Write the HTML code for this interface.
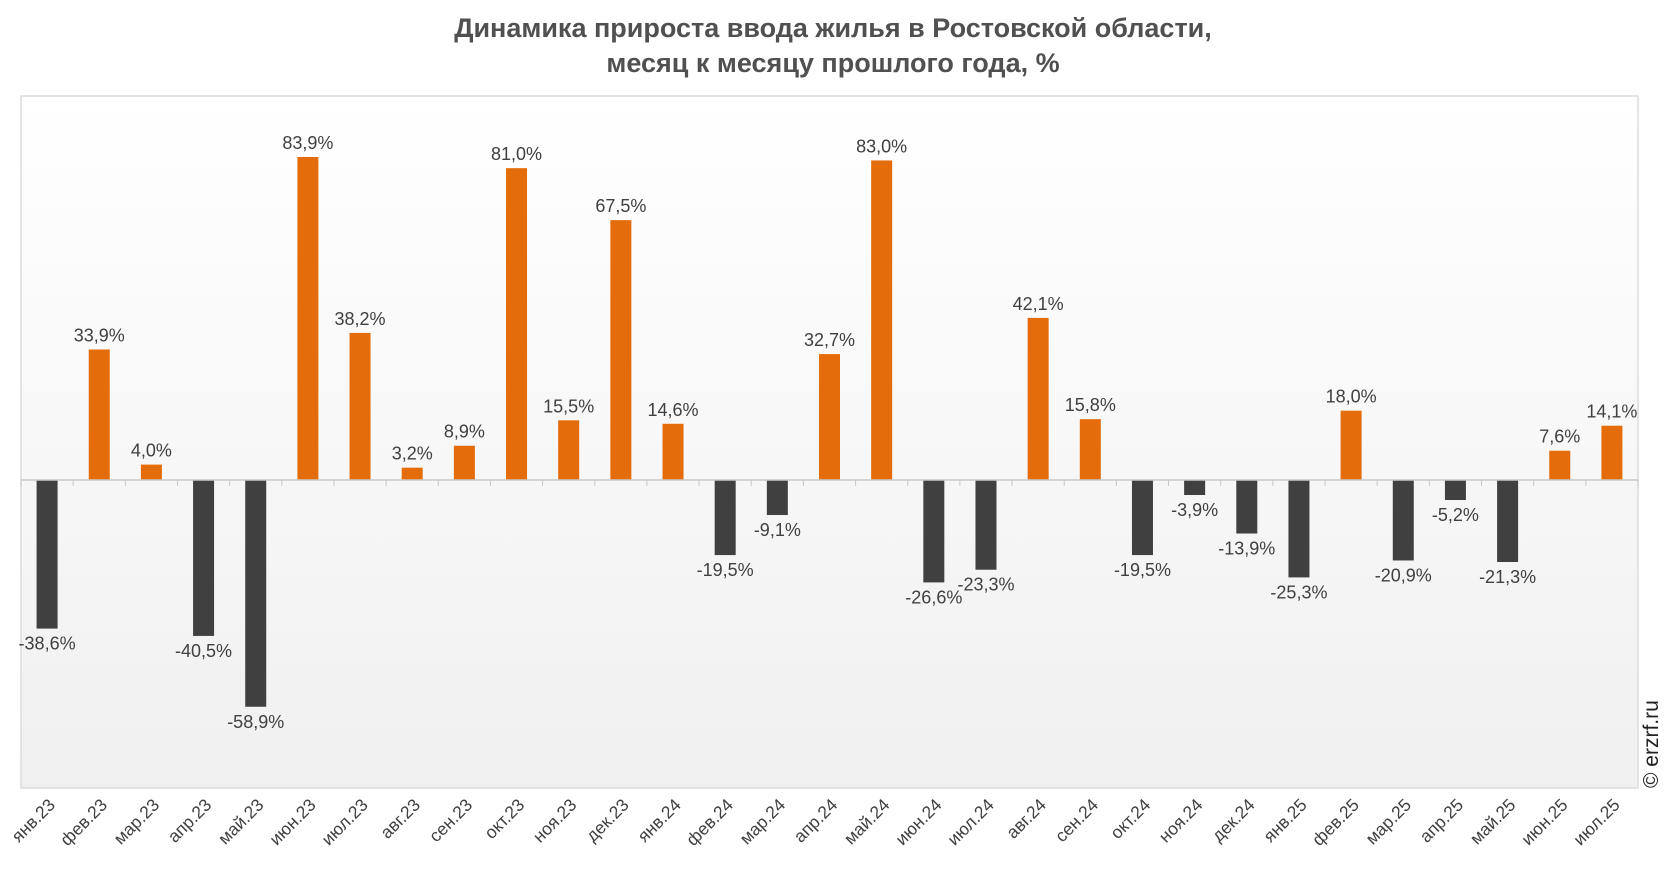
<!DOCTYPE html>
<html><head><meta charset="utf-8">
<style>
html,body{margin:0;padding:0;background:#fff;}
svg{display:block;font-family:"Liberation Sans","DejaVu Sans",sans-serif;}
</style></head>
<body>
<svg id="chart" width="1666" height="872" viewBox="0 0 1666 872">
<defs>
<linearGradient id="bg" x1="0" y1="0" x2="0" y2="1">
<stop offset="0" stop-color="#ffffff"/><stop offset="1" stop-color="#f0f0f0"/>
</linearGradient>
</defs>
<text x="833" y="37" text-anchor="middle" font-size="27" font-weight="bold" fill="#505050">Динамика прироста ввода жилья в Ростовской области,</text>
<text x="833" y="72" text-anchor="middle" font-size="27" font-weight="bold" fill="#505050">месяц к месяцу прошлого года, %</text>
<rect x="21" y="96" width="1617" height="692" fill="url(#bg)" stroke="#dcdcdc" stroke-width="1.5"/>
<g id="bars"></g>
<g id="axis"></g>
<g id="labels"></g>
<text transform="translate(1658,788) rotate(-90)" font-size="21" fill="#222">© erzrf.ru</text>
</svg>
<script>
const categories=["янв.23","фев.23","мар.23","апр.23","май.23","июн.23","июл.23","авг.23","сен.23","окт.23","ноя.23","дек.23","янв.24","фев.24","мар.24","апр.24","май.24","июн.24","июл.24","авг.24","сен.24","окт.24","ноя.24","дек.24","янв.25","фев.25","мар.25","апр.25","май.25","июн.25","июл.25"];
const values=[-38.6,33.9,4.0,-40.5,-58.9,83.9,38.2,3.2,8.9,81.0,15.5,67.5,14.6,-19.5,-9.1,32.7,83.0,-26.6,-23.3,42.1,15.8,-19.5,-3.9,-13.9,-25.3,18.0,-20.9,-5.2,-21.3,7.6,14.1];
const NS="http://www.w3.org/2000/svg";
const left=21,right=1638,zeroY=480,pxPer=3.85,barW=21;
const step=(right-left)/categories.length;
function xC(i){return left+step*(i+0.5);}
function yV(v){return zeroY-v*pxPer;}
function mk(tag,attrs,parent){const e=document.createElementNS(NS,tag);for(const k in attrs)e.setAttribute(k,attrs[k]);parent.appendChild(e);return e;}
const gb=document.getElementById('bars'),ga=document.getElementById('axis'),gl=document.getElementById('labels');
values.forEach((v,i)=>{
  const y0=yV(Math.max(v,0)),y1=yV(Math.min(v,0));
  const r=mk('rect',{x:xC(i)-barW/2,y:y0,width:barW,height:Math.max(y1-y0,0.5),fill:v>=0?'#e46c0a':'#404040'},gb);
  
  
  const t=mk('text',{x:xC(i),y:v>=0?y0-8:y1+21,'text-anchor':'middle','font-size':18,fill:'#404040'},gl);
  t.textContent=v.toFixed(1).replace('.',',')+'%';
  
  
  const lx=xC(i)+9,ly=806;
  const c=mk('text',{x:lx,y:ly,'text-anchor':'end','font-size':17.5,fill:'#404040',transform:'rotate(-45 '+lx+' '+ly+')'},gl);
  c.textContent=categories[i];
  
  
});
const ax=mk('line',{x1:left,x2:right,y1:zeroY,y2:zeroY,stroke:'#c8c8c8','stroke-width':1.5},ga);


for(let i=0;i<=categories.length;i++){
  const x=left+step*i;
  const tk=mk('line',{x1:x,x2:x,y1:zeroY,y2:zeroY+6,stroke:'#c8c8c8','stroke-width':1},ga);
  
  
}
</script>
</body></html>
